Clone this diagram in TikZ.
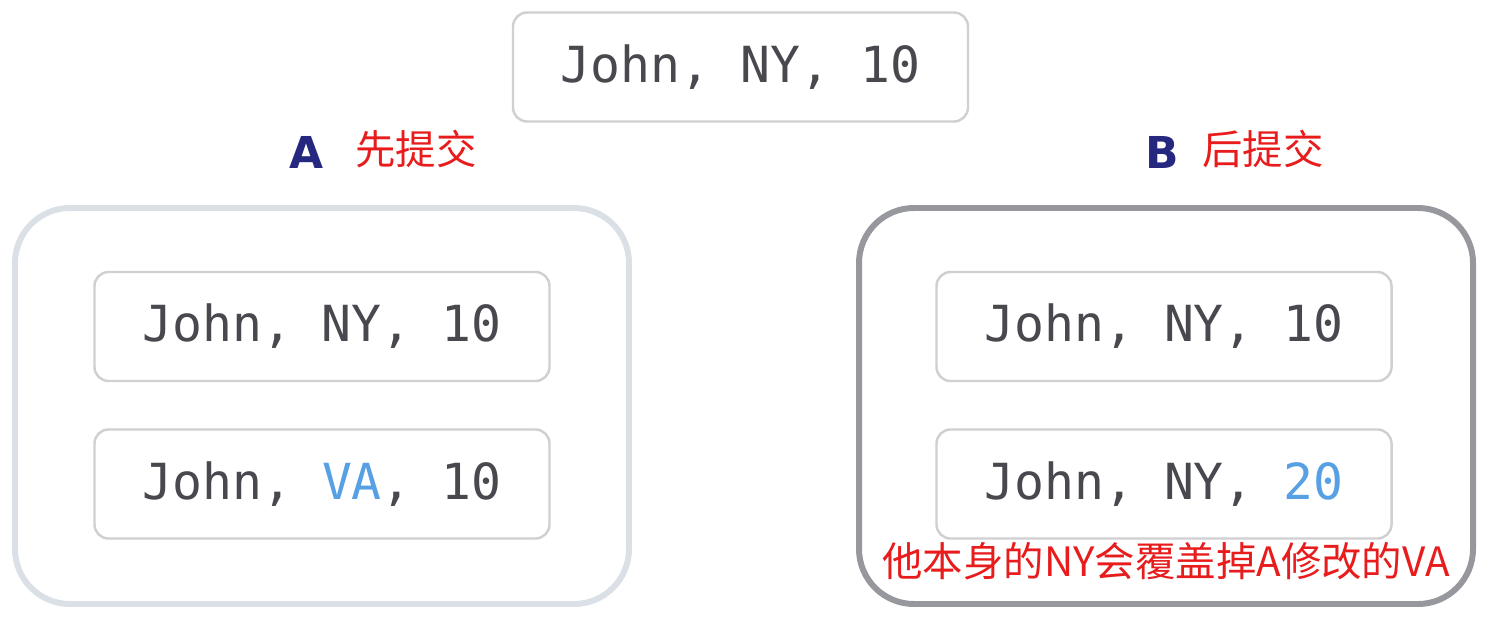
\documentclass[tikz,border=0pt]{standalone}
\usepackage{fontspec}
\setmonofont{DejaVu Sans Mono}
\newfontfamily\cjk{Noto Sans CJK SC}
\newfontfamily\labfont{DejaVu Sans}
\usepackage{tikz}
\definecolor{rowgray}{RGB}{72,72,78}
\definecolor{rowedge}{RGB}{208,208,210}
\definecolor{newblue}{RGB}{88,160,228}
\definecolor{txnnavy}{RGB}{38,40,128}
\definecolor{noteRed}{RGB}{232,28,28}
\definecolor{boxA}{RGB}{218,224,230}
\definecolor{boxB}{RGB}{150,152,157}

\begin{document}
\begin{tikzpicture}[
  row/.style={draw=rowedge, line width=1.4pt, rounded corners=8pt, fill=white,
    minimum width=9.1cm, minimum height=2.18cm, text=rowgray,
    font=\ttfamily\fontsize{28.3}{31}\selectfont},
  txn/.style={line width=3.4pt, rounded corners=1.1cm,
    minimum width=12.28cm, minimum height=7.92cm},
  txnlab/.style={text=txnnavy, font=\labfont\bfseries\fontsize{25}{28}\selectfont},
  note/.style={text=noteRed, font=\cjk\fontsize{23}{26}\selectfont}
]
  \useasboundingbox (0,0) rectangle (30.14,12.4);

  % Original row
  \node[row] (orig) at (14.81,11.06) {John, NY, 10};

  % Transaction labels
  \node[txnlab] (labA) at (6.12,9.36) {A};
  \node[note] (commitA) at (8.32,9.42) {先提交};
  \node[txnlab] (labB) at (23.24,9.36) {B};
  \node[note] (commitB) at (25.26,9.42) {后提交};

  % Transaction A
  \node[txn, draw=boxA] (txnA) at (6.44,4.28) {};
  \node[row] (readA) at (6.44,5.87) {John, NY, 10};
  \node[row] (writeA) at (6.44,2.72) {John, \textcolor{newblue}{VA}, 10};

  % Transaction B
  \node[txn, draw=boxB] (txnB) at (23.32,4.28) {};
  \node[row] (readB) at (23.28,5.87) {John, NY, 10};
  \node[row] (writeB) at (23.28,2.72) {John, NY, \textcolor{newblue}{20}};

  % Lost update note
  \node[note] (lost) at (23.32,1.18) {他本身的NY会覆盖掉A修改的VA};
\end{tikzpicture}
\end{document}
